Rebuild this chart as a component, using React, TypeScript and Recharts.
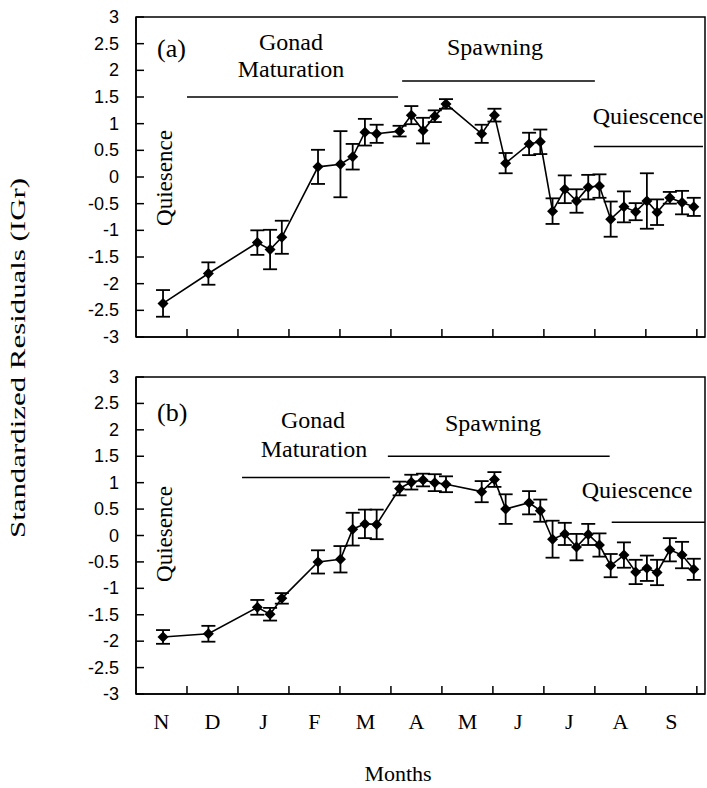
import React from 'react';
import { LineChart, Line, XAxis, YAxis, ErrorBar, ReferenceLine, ReferenceArea } from 'recharts';

const MONTHS = ['N', 'D', 'J', 'F', 'M', 'A', 'M', 'J', 'J', 'A', 'S'];
const Y_TICKS = [-3, -2.5, -2, -1.5, -1, -0.5, 0, 0.5, 1, 1.5, 2, 2.5, 3];

// sampling dates, in months counted from the start of November
const SAMPLE_POS = [
  0.53, 1.42, 2.38, 2.63, 2.86, 3.57, 4.01, 4.25, 4.49, 4.72, 5.17, 5.4, 5.63, 5.86, 6.08, 6.78, 7.03,
  7.25, 7.71, 7.93, 8.17, 8.41, 8.64, 8.87, 9.09, 9.31, 9.57, 9.8, 10.02, 10.22, 10.47, 10.71, 10.94,
];

// (a)
const IGR_A = [
  -2.37, -1.81, -1.23, -1.36, -1.13, 0.19, 0.24, 0.38, 0.84, 0.81, 0.86, 1.16, 0.87, 1.14, 1.37, 0.81, 1.16,
  0.26, 0.62, 0.66, -0.64, -0.23, -0.45, -0.19, -0.17, -0.79, -0.56, -0.65, -0.45, -0.66, -0.39, -0.48, -0.56,
];
const ERR_A = [
  0.25, 0.21, 0.23, 0.37, 0.31, 0.32, 0.62, 0.24, 0.25, 0.17, 0.1, 0.17, 0.24, 0.11, 0.09, 0.17, 0.12,
  0.19, 0.21, 0.23, 0.24, 0.26, 0.22, 0.23, 0.22, 0.33, 0.29, 0.16, 0.52, 0.24, 0.11, 0.22, 0.17,
];

// (b)
const IGR_B = [
  -1.92, -1.86, -1.36, -1.49, -1.19, -0.5, -0.45, 0.12, 0.22, 0.21, 0.89, 1.01, 1.05, 1.0, 0.97, 0.83, 1.06,
  0.5, 0.62, 0.47, -0.07, 0.03, -0.22, 0.02, -0.18, -0.57, -0.37, -0.69, -0.62, -0.7, -0.27, -0.37, -0.64,
];
const ERR_B = [
  0.13, 0.15, 0.14, 0.12, 0.1, 0.22, 0.25, 0.31, 0.27, 0.28, 0.13, 0.14, 0.12, 0.16, 0.15, 0.2, 0.14,
  0.28, 0.22, 0.21, 0.35, 0.21, 0.25, 0.2, 0.22, 0.22, 0.24, 0.23, 0.24, 0.24, 0.22, 0.25, 0.2,
];

const SERIF = '"Liberation Serif", "Times New Roman", serif';
const SANS = '"Liberation Sans", Arial, sans-serif';

const W = 707;
const Y_AXIS_W = 136;
const RIGHT = 2;
const X_MAX = 11.16;
const MONTH_PX = (W - Y_AXIS_W - RIGHT) / X_MAX;
const MONTH_CENTERS = MONTHS.map((_, i) => i + 0.5);

const YTick = (props: any) => {
  const { x, y, payload } = props;
  return (
    <g>
      <line x1={x} x2={x + 8} y1={y} y2={y} stroke="#000" strokeWidth={1.5} />
      <text x={x - 17} y={y} textAnchor="end" dominantBaseline="central" fontFamily={SANS} fontSize={18} fill="#000">
        {payload.value}
      </text>
    </g>
  );
};

const MonthTick = (props: any) => {
  const { x, y, index, showLabel } = props;
  const tx = x + MONTH_PX / 2;
  return (
    <g>
      <line x1={tx} x2={tx} y1={y} y2={y - 8} stroke="#000" strokeWidth={1.5} />
      {showLabel && (
        <text x={x} y={y + 35} textAnchor="middle" fontFamily={SERIF} fontSize={22} fill="#000">
          {MONTHS[index]}
        </text>
      )}
    </g>
  );
};

const Diamond = (props: any) => {
  const { cx, cy } = props;
  if (cx == null || cy == null) return <g />;
  const r = 5.5;
  return <polygon points={`${cx},${cy - r} ${cx + r},${cy} ${cx},${cy + r} ${cx - r},${cy}`} fill="#000" />;
};

type Segment = { x1: number; x2: number; y: number };

interface PanelProps {
  values: number[];
  errors: number[];
  height: number;
  axisHeight: number;
  showMonths: boolean;
  segments: Segment[];
}

const Panel: React.FC<PanelProps> = ({ values, errors, height, axisHeight, showMonths, segments }) => {
  const data = SAMPLE_POS.map((pos, i) => ({ pos, igr: values[i], err: errors[i] }));
  return (
    <LineChart width={W} height={height} data={data} margin={{ top: 17, right: RIGHT, bottom: 0, left: 0 }}>
      <XAxis
        type="number"
        dataKey="pos"
        domain={[0, X_MAX]}
        ticks={MONTH_CENTERS}
        interval={0}
        allowDataOverflow
        height={axisHeight}
        tickLine={false}
        tickSize={0}
        tickMargin={0}
        axisLine={{ stroke: '#000', strokeWidth: 1.5 }}
        tick={<MonthTick showLabel={showMonths} />}
      />
      <YAxis
        type="number"
        domain={[-3, 3]}
        ticks={Y_TICKS}
        interval={0}
        allowDataOverflow
        width={Y_AXIS_W}
        tickLine={false}
        tickSize={0}
        tickMargin={0}
        axisLine={{ stroke: '#000', strokeWidth: 1.5 }}
        tick={<YTick />}
      />
      <ReferenceArea x1={0} x2={X_MAX} y1={-3} y2={3} fill="none" stroke="#000" strokeWidth={1.5} ifOverflow="visible" />
      {segments.map((s, i) => (
        <ReferenceLine
          key={i}
          segment={[{ x: s.x1, y: s.y }, { x: s.x2, y: s.y }]}
          stroke="#000"
          strokeWidth={1.5}
          ifOverflow="visible"
        />
      ))}
      <Line
        type="linear"
        dataKey="igr"
        stroke="#000"
        strokeWidth={1.6}
        dot={(p: any) => <Diamond key={p.index} {...p} />}
        activeDot={false}
        isAnimationActive={false}
      >
        <ErrorBar dataKey="err" direction="y" width={7} stroke="#000" strokeWidth={1.8} />
      </Line>
    </LineChart>
  );
};

const txt = { fontFamily: SERIF, fill: '#000' };

export default function App() {
  return (
    <div style={{ position: 'relative', width: W, height: 788, background: '#fff' }}>
      <style>{'body{margin:0}'}</style>
      <div style={{ position: 'absolute', left: 0, top: 0 }}>
        <Panel
          values={IGR_A}
          errors={ERR_A}
          height={358}
          axisHeight={21}
          showMonths={false}
          segments={[
            { x1: 1.0, x2: 5.14, y: 1.5 },
            { x1: 5.22, x2: 9.0, y: 1.8 },
            { x1: 8.98, x2: 11.12, y: 0.57 },
          ]}
        />
      </div>
      <div style={{ position: 'absolute', left: 0, top: 360 }}>
        <Panel
          values={IGR_B}
          errors={ERR_B}
          height={428}
          axisHeight={94}
          showMonths
          segments={[
            { x1: 2.08, x2: 4.98, y: 1.1 },
            { x1: 4.94, x2: 9.29, y: 1.5 },
            { x1: 9.33, x2: X_MAX, y: 0.25 },
          ]}
        />
      </div>
      <svg width={W} height={788} style={{ position: 'absolute', left: 0, top: 0, pointerEvents: 'none' }}>
        <text
          {...txt}
          x={25}
          y={358}
          fontSize={22}
          textAnchor="middle"
          textLength={360}
          lengthAdjust="spacingAndGlyphs"
          transform="rotate(-90 25 358)"
        >
          Standardized Residuals (IGr)
        </text>
        <text {...txt} x={398} y={781} fontSize={22} textAnchor="middle">Months</text>

        <text {...txt} x={157} y={57} fontSize={26}>(a)</text>
        <text {...txt} x={291} y={50} fontSize={24} textAnchor="middle">Gonad</text>
        <text {...txt} x={291} y={77} fontSize={24} textAnchor="middle">Maturation</text>
        <text {...txt} x={495} y={55} fontSize={24} textAnchor="middle">Spawning</text>
        <text {...txt} x={648} y={124} fontSize={24} textAnchor="middle">Quiescence</text>
        <text {...txt} x={172} y={178} fontSize={23} textAnchor="middle" transform="rotate(-90 172 178)">Quiesence</text>

        <text {...txt} x={157} y={421} fontSize={26}>(b)</text>
        <text {...txt} x={313} y={428} fontSize={24} textAnchor="middle">Gonad</text>
        <text {...txt} x={314} y={457} fontSize={24} textAnchor="middle">Maturation</text>
        <text {...txt} x={493} y={431} fontSize={24} textAnchor="middle">Spawning</text>
        <text {...txt} x={637} y={498} fontSize={24} textAnchor="middle">Quiescence</text>
        <text {...txt} x={172} y={534} fontSize={23} textAnchor="middle" transform="rotate(-90 172 534)">Quiesence</text>
      </svg>
    </div>
  );
}
